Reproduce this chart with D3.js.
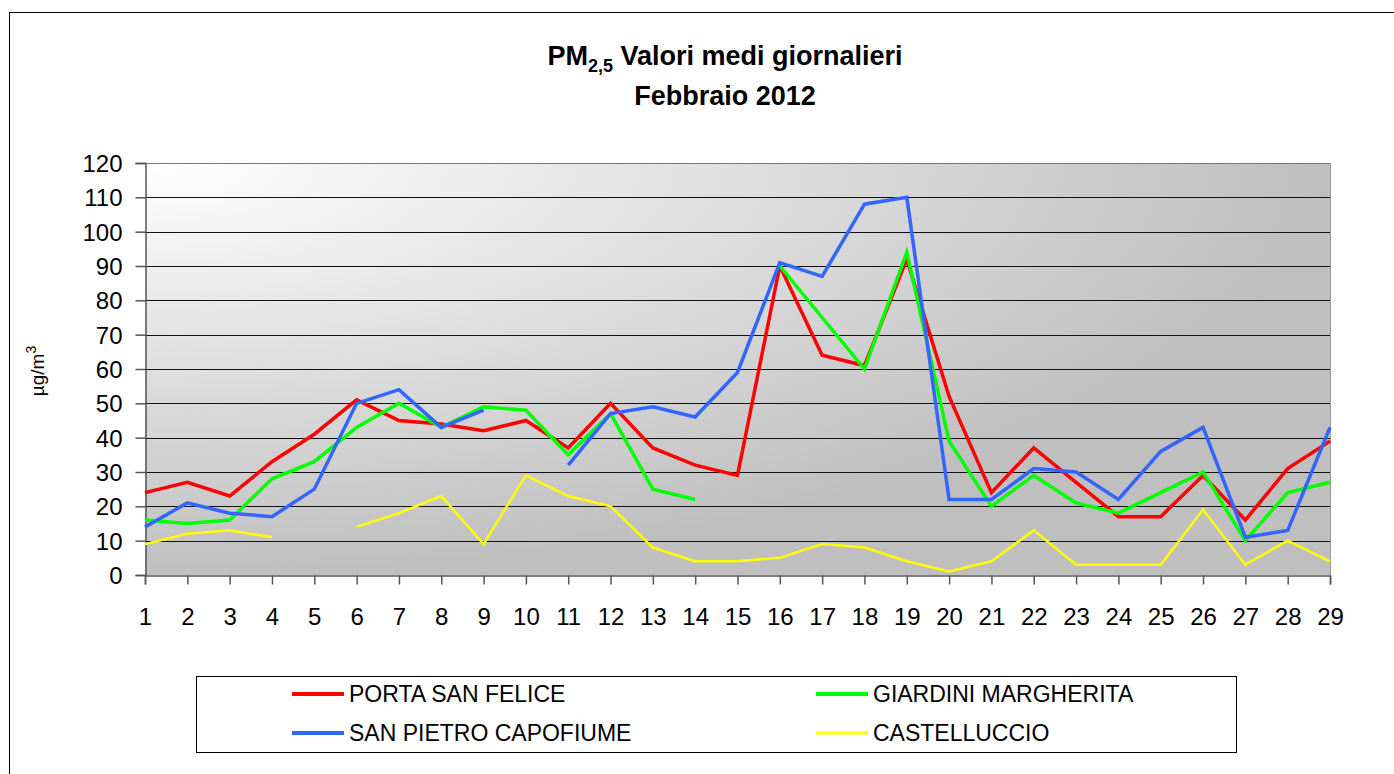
<!DOCTYPE html>
<html><head><meta charset="utf-8">
<script src="https://cdn.jsdelivr.net/npm/d3@7"></script>
<style>html,body{margin:0;padding:0;background:#fff;overflow:hidden}svg{display:block;font-family:"Liberation Sans",Arial,sans-serif}</style>
</head><body>
<script>
const days = d3.range(1, 30);
const yTicks = [0,10,20,30,40,50,60,70,80,90,100,110,120];
const seriesNames = ["PORTA SAN FELICE","GIARDINI MARGHERITA","SAN PIETRO CAPOFIUME","CASTELLUCCIO"];
const portaSanFelice = [24,27,23,33,41,51,45,44,42,45,37,50,37,32,29,90,64,61,92,52,24,37,27,17,17,29,16,31,39];
const giardiniMargherita = [16,15,16,28,33,43,50,43,49,48,35,47,25,22,null,90,75,60,94,39,20,29,21,18,24,30,10,24,27];
const sanPietroCapofiume = [14,21,18,17,25,50,54,43,48,null,32,47,49,46,59,91,87,108,110,22,22,31,30,22,36,43,11,13,43];
const castelluccio = [9,12,13,11,null,14,18,23,9,29,23,20,8,4,4,5,9,8,4,1,4,13,3,3,3,19,3,10,4];
const seriesColors = ["#ff0000","#00ff00","#3366ff","#ffff00"];
const seriesWidths = [3.5,3.5,3.5,2.5];
const seriesData = [portaSanFelice, giardiniMargherita, sanPietroCapofiume, castelluccio];

const W = 1394, H = 774;
const svg = d3.select("body").append("svg").attr("width", W).attr("height", H);

svg.append("rect").attr("x",9.5).attr("y",12.5).attr("width",W).attr("height",H)
  .attr("fill","#fff").attr("stroke","#000").attr("stroke-width",1);

const defs = svg.append("defs");
const grad = defs.append("radialGradient").attr("id","bg").attr("cx",0).attr("cy",0).attr("r",1).attr("fx",0).attr("fy",0);
grad.append("stop").attr("offset","0%").attr("stop-color","#ffffff");
grad.append("stop").attr("offset","100%").attr("stop-color","#bfbfbf");

const L = 145, R = 1330, T = 163, B = 575;
const x = d3.scalePoint().domain(days).range([L, R]);
const y = d3.scaleLinear().domain([0,120]).range([B, T]);

svg.append("rect").attr("x",L).attr("y",T).attr("width",R-L).attr("height",B-T).attr("fill","url(#bg)");

// gridlines
svg.append("g").selectAll("line").data(yTicks.filter(d=>d>0)).join("line")
  .attr("x1",L).attr("x2",R).attr("y1",d=>Math.round(y(d))+0.5).attr("y2",d=>Math.round(y(d))+0.5)
  .attr("stroke",d=>d===120?"#777":"#111").attr("stroke-width",1);
svg.append("line").attr("x1",R+0.5).attr("x2",R+0.5).attr("y1",T).attr("y2",B).attr("stroke","#999");

// axes
const yAxis = d3.axisLeft(y).tickValues(yTicks).tickSize(10).tickPadding(13);
const gy = svg.append("g").attr("transform",`translate(${L+0.5},0)`).call(yAxis);
const xAxis = d3.axisBottom(x).tickSize(9).tickPadding(23);
const gx = svg.append("g").attr("transform",`translate(0,${Math.round(B)+0.5})`).call(xAxis);
[gy,gx].forEach(g=>{
  g.select(".domain").attr("stroke","#555").attr("stroke-width",1.5);
  g.selectAll(".tick line").attr("stroke","#555").attr("stroke-width",1.5);
  g.selectAll(".tick text").attr("fill","#000").style("font-size","24px").style("font-family","'Liberation Sans',Arial,sans-serif");
});
gy.selectAll(".tick text").attr("dy","0.36em");

// lines
const line = d3.line().defined(d=>d.v!==null).x(d=>x(d.day)).y(d=>y(d.v));
seriesData.forEach((arr,i)=>{
  const pts = arr.map((v,j)=>({day:days[j], v}));
  svg.append("path").datum(pts).attr("d",line).attr("fill","none")
    .attr("stroke",seriesColors[i]).attr("stroke-width",seriesWidths[i])
    .attr("stroke-linejoin","miter").attr("stroke-linecap","butt");
});

// title
const title = svg.append("text").attr("x",725).attr("y",65).attr("text-anchor","middle")
  .style("font-size","27px").style("font-weight","bold");
title.append("tspan").text("PM");
title.append("tspan").text("2,5").attr("dy",7).style("font-size","18px");
title.append("tspan").text(" Valori medi giornalieri").attr("dy",-7);
svg.append("text").attr("x",725).attr("y",105).attr("text-anchor","middle")
  .style("font-size","27px").style("font-weight","bold").text("Febbraio 2012");

// y label
const yl = svg.append("text").attr("transform","translate(44,371) rotate(-90)").attr("text-anchor","middle")
  .style("font-size","19px");
yl.append("tspan").text("µg/m");
yl.append("tspan").text("3").attr("dy",-8).style("font-size","14px");

// legend
svg.append("rect").attr("x",196.5).attr("y",676.5).attr("width",1040).attr("height",76)
  .attr("fill","#fff").attr("stroke","#000").attr("stroke-width",1);
const legPos = [[292,694],[816,694],[292,733],[816,733]];
seriesNames.forEach((n,i)=>{
  const [lx,ly] = legPos[i];
  svg.append("line").attr("x1",lx).attr("x2",lx+52).attr("y1",ly).attr("y2",ly)
    .attr("stroke",seriesColors[i]).attr("stroke-width",seriesWidths[i]+0.5);
  svg.append("text").attr("x",lx+57).attr("y",ly+8).style("font-size","23px").text(n);
});
</script>
</body></html>
